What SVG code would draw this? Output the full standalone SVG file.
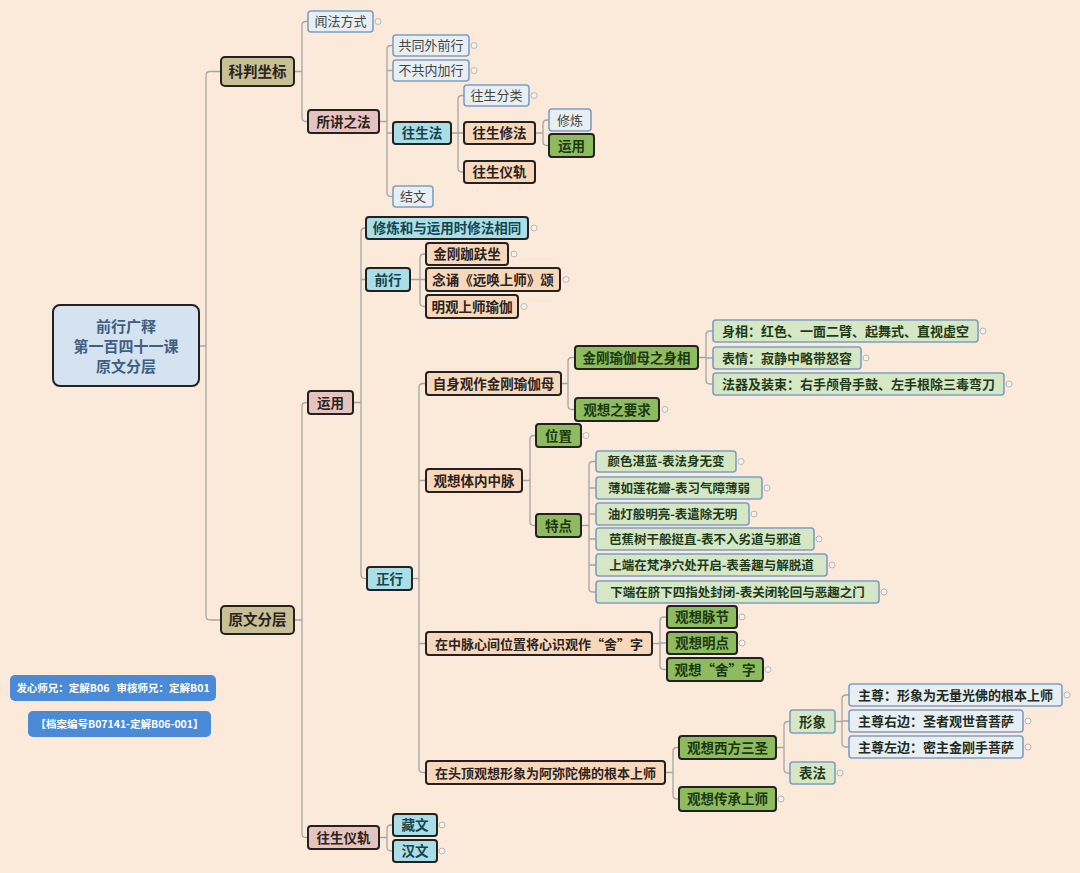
<svg xmlns="http://www.w3.org/2000/svg" width="1080" height="873" viewBox="0 0 1080 873">
<style>
text{font-family:"Noto Sans CJK SC","Noto Sans",sans-serif;font-weight:700;font-size:13.5px;text-anchor:middle;fill:#2a2320}
rect{stroke-width:2}
.k rect{fill:#c7bf96;stroke:#222}
.p rect{fill:#e7c3bf;stroke:#222}
.c rect{fill:#aadde6;stroke:#222}
.c text{fill:#15454d}
.o rect{fill:#f9d7ba;stroke:#222}
.g rect{fill:#8fbb5f;stroke:#222}
.g text{fill:#1b3812}
.l rect{fill:#e8eff3;stroke:#7d9fc3;stroke-width:1.6}
.l text{font-weight:400;font-size:13px;fill:#444}
.lb rect{fill:#e8eff3;stroke:#7d9fc3;stroke-width:1.6}
.lb text{fill:#1f2a22}
.lg rect{fill:#d6e7c6;stroke:#7d9fc3;stroke-width:1.6}
.lg text{fill:#1f3a1a}
.s text{font-size:12.5px}
.t text{font-size:13px}
.b rect{fill:#4a8ad6;stroke:none}
.b text{fill:#fff;font-size:10.5px}
#connectors path{fill:none;stroke:#a3a7aa;stroke-width:1.3}
#markers circle{fill:#f6f3ef;stroke:#a9a9a9;stroke-width:0.8}
</style>
<rect x="0" y="0" width="1080" height="873" fill="#fbe9da" style="stroke:none"/>
<g id="connectors">
<path d="M199 346H206M221 71.5H210Q206 71.5 206 75.5V616Q206 620 210 620H221"/>
<path d="M294 71.5H302M308 21.5H306Q302 21.5 302 25.5V117.5Q302 121.5 306 121.5H308"/>
<path d="M379 121.5H387M393 45.5H391Q387 45.5 387 49.5V192.5Q387 196.5 391 196.5H393M387 70.5H393M387 133H393"/>
<path d="M451 133H458M464 95.5H462Q458 95.5 458 99.5V168Q458 172 462 172H464M458 133H464"/>
<path d="M535 133H543M549 120H547Q543 120 543 124V141.5Q543 145.5 547 145.5H549"/>
<path d="M294 620H302M308 402.5H306Q302 402.5 302 406.5V833.5Q302 837.5 306 837.5H308"/>
<path d="M353 402.5H361M366 228H365Q361 228 361 232V574.5Q361 578.5 365 578.5H367M361 279.5H366"/>
<path d="M410 279.5H420M426 254H424Q420 254 420 258V302.5Q420 306.5 424 306.5H426M420 279.5H426"/>
<path d="M412 578.5H419M426 383.5H423Q419 383.5 419 387.5V768.5Q419 772.5 423 772.5H426M419 480.5H426M419 643.5H426"/>
<path d="M561 383.5H568M575 357.5H572Q568 357.5 568 361.5V405.5Q568 409.5 572 409.5H575"/>
<path d="M698 357.5H706M713 331H710Q706 331 706 335V380Q706 384 710 384H713M706 358H713"/>
<path d="M522 480.5H530M536 435.5H534Q530 435.5 530 439.5V521.5Q530 525.5 534 525.5H536"/>
<path d="M581 525.5H589M596 461.5H593Q589 461.5 589 465.5V588Q589 592 593 592H596M589 488H596M589 514H596M589 539H596M589 565H596"/>
<path d="M652 643.5H660M667 617H664Q660 617 660 621V665.5Q660 669.5 664 669.5H667M660 643H667"/>
<path d="M665 772.5H673M679 747.5H677Q673 747.5 673 751.5V795Q673 799 677 799H679"/>
<path d="M776 747.5H784M790 721.5H788Q784 721.5 784 725.5V769Q784 773 788 773H790"/>
<path d="M835 721.5H842M849 695H846Q842 695 842 699V743Q842 747 846 747H849M842 721H849"/>
<path d="M379 837.5H387M393 825H391Q387 825 387 829V847Q387 851 391 851H393"/>
</g>
<g id="root"><rect x="53" y="305" width="146" height="81" rx="7" style="fill:#d5e2ef;stroke:#222"/>
<text x="126" y="332" style="font-size:15px;fill:#3e5f83">前行广释</text>
<text x="126" y="352" style="font-size:15px;fill:#3e5f83">第一百四十一课</text>
<text x="126" y="372" style="font-size:15px;fill:#3e5f83">原文分层</text></g>
<g id="n-kepan" class="k"><rect x="221" y="57" width="73" height="29" rx="4"/><text x="257.5" y="76.5" style="font-size:14.5px">科判坐标</text></g>
<g id="n-wenfa" class="l"><rect x="308" y="11" width="65" height="21" rx="3"/><text x="340.5" y="26">闻法方式</text></g>
<g id="n-suojiang" class="p"><rect x="308" y="110" width="71" height="23" rx="3"/><text x="343.5" y="126.5">所讲之法</text></g>
<g id="n-gongtong" class="l"><rect x="393" y="35" width="76" height="21" rx="3"/><text x="431" y="50">共同外前行</text></g>
<g id="n-bugong" class="l"><rect x="393" y="60" width="76" height="21" rx="3"/><text x="431" y="75">不共内加行</text></g>
<g id="n-wangshengfa" class="c"><rect x="393" y="122" width="58" height="22" rx="3"/><text x="422" y="138">往生法</text></g>
<g id="n-jiewen" class="l"><rect x="393" y="186" width="40" height="21" rx="3"/><text x="413" y="201">结文</text></g>
<g id="n-fenlei" class="l"><rect x="464" y="85" width="65" height="21" rx="3"/><text x="496.5" y="100">往生分类</text></g>
<g id="n-xiufa" class="o"><rect x="464" y="122" width="71" height="22" rx="3"/><text x="499.5" y="138">往生修法</text></g>
<g id="n-yigui1" class="o"><rect x="464" y="161" width="71" height="22" rx="3"/><text x="499.5" y="177">往生仪轨</text></g>
<g id="n-xiulian" class="l"><rect x="549" y="109" width="42" height="22" rx="3"/><text x="570" y="125">修炼</text></g>
<g id="n-yunyong1" class="g"><rect x="549" y="134" width="45" height="23" rx="3"/><text x="571.5" y="150.5">运用</text></g>
<g id="n-yuanwen" class="k"><rect x="221" y="606" width="73" height="28" rx="4"/><text x="257.5" y="625" style="font-size:14.5px">原文分层</text></g>
<g id="n-yunyong" class="p"><rect x="308" y="391" width="45" height="23" rx="3"/><text x="330.5" y="407.5">运用</text></g>
<g id="n-yigui2" class="p"><rect x="308" y="826" width="71" height="23" rx="3"/><text x="343.5" y="842.5">往生仪轨</text></g>
<g id="n-zangwen" class="c"><rect x="393" y="814" width="44" height="22" rx="3"/><text x="415" y="830">藏文</text></g>
<g id="n-hanwen" class="c"><rect x="393" y="840" width="44" height="22" rx="3"/><text x="415" y="856">汉文</text></g>
<g id="n-xiangtong" class="c"><rect x="366" y="217" width="162" height="22" rx="3"/><text x="447" y="233">修炼和与运用时修法相同</text></g>
<g id="n-qianxing" class="c"><rect x="366" y="268" width="44" height="23" rx="3"/><text x="388" y="284.5">前行</text></g>
<g id="n-zhengxing" class="c"><rect x="367" y="567" width="45" height="23" rx="3"/><text x="389.5" y="583.5">正行</text></g>
<g id="n-jingang" class="o"><rect x="426" y="243" width="82" height="22" rx="3"/><text x="467" y="259">金刚跏趺坐</text></g>
<g id="n-niansong" class="o"><rect x="426" y="268" width="134" height="23" rx="3"/><text x="493" y="284.5">念诵《远唤上师》颂</text></g>
<g id="n-mingguan" class="o"><rect x="426" y="295" width="92" height="23" rx="3"/><text x="472" y="311.5">明观上师瑜伽</text></g>
<g id="n-zishen" class="o"><rect x="426" y="372" width="135" height="23" rx="3"/><text x="493.5" y="388.5">自身观作金刚瑜伽母</text></g>
<g id="n-zhongmai" class="o"><rect x="426" y="469" width="96" height="23" rx="3"/><text x="474" y="485.5">观想体内中脉</text></g>
<g id="n-xinjian" class="o t"><rect x="426" y="632" width="226" height="23" rx="3"/><text x="539" y="648.5">在中脉心间位置将心识观作“舍”字</text></g>
<g id="n-touding" class="o t"><rect x="426" y="761" width="239" height="23" rx="3"/><text x="545.5" y="777.5">在头顶观想形象为阿弥陀佛的根本上师</text></g>
<g id="n-shenxiang" class="g"><rect x="575" y="346" width="123" height="23" rx="3"/><text x="636.5" y="362.5">金刚瑜伽母之身相</text></g>
<g id="n-yaoqiu" class="g"><rect x="575" y="398" width="84" height="23" rx="3"/><text x="617" y="414.5">观想之要求</text></g>
<g id="n-sx1" class="lg t"><rect x="713" y="320" width="265" height="22" rx="3"/><text x="845.5" y="336">身相：红色、一面二臂、起舞式、直视虚空</text></g>
<g id="n-sx2" class="lg t"><rect x="713" y="347" width="148" height="22" rx="3"/><text x="787" y="363">表情：寂静中略带怒容</text></g>
<g id="n-sx3" class="lg t"><rect x="713" y="373" width="291" height="22" rx="3"/><text x="858.5" y="389">法器及装束：右手颅骨手鼓、左手根除三毒弯刀</text></g>
<g id="n-weizhi" class="g"><rect x="536" y="424" width="45" height="23" rx="3"/><text x="558.5" y="440.5">位置</text></g>
<g id="n-tedian" class="g"><rect x="536" y="514" width="45" height="23" rx="3"/><text x="558.5" y="530.5">特点</text></g>
<g id="n-td1" class="lg s"><rect x="596" y="451" width="140" height="21" rx="3"/><text x="666" y="466">颜色湛蓝-表法身无变</text></g>
<g id="n-td2" class="lg s"><rect x="596" y="477" width="166" height="22" rx="3"/><text x="679" y="492.5">薄如莲花瓣-表习气障薄弱</text></g>
<g id="n-td3" class="lg s"><rect x="596" y="503" width="153" height="22" rx="3"/><text x="672.5" y="518.5">油灯般明亮-表遣除无明</text></g>
<g id="n-td4" class="lg s"><rect x="596" y="528" width="218" height="22" rx="3"/><text x="705" y="543.5">芭蕉树干般挺直-表不入劣道与邪道</text></g>
<g id="n-td5" class="lg s"><rect x="596" y="554" width="231" height="22" rx="3"/><text x="711.5" y="569.5">上端在梵净穴处开启-表善趣与解脱道</text></g>
<g id="n-td6" class="lg s"><rect x="596" y="581" width="283" height="22" rx="3"/><text x="737.5" y="596.5">下端在脐下四指处封闭-表关闭轮回与恶趣之门</text></g>
<g id="n-maijie" class="g"><rect x="667" y="606" width="70" height="22" rx="3"/><text x="702" y="622">观想脉节</text></g>
<g id="n-mingdian" class="g"><rect x="667" y="632" width="70" height="22" rx="3"/><text x="702" y="648">观想明点</text></g>
<g id="n-she" class="g"><rect x="667" y="658" width="96" height="23" rx="3"/><text x="715" y="674.5">观想“舍”字</text></g>
<g id="n-sansheng" class="g"><rect x="679" y="736" width="97" height="23" rx="3"/><text x="727.5" y="752.5">观想西方三圣</text></g>
<g id="n-chuancheng" class="g"><rect x="679" y="787" width="97" height="24" rx="3"/><text x="727.5" y="804">观想传承上师</text></g>
<g id="n-xingxiang" class="lg"><rect x="790" y="710" width="45" height="23" rx="3"/><text x="812.5" y="726.5">形象</text></g>
<g id="n-biaofa" class="lg"><rect x="790" y="762" width="45" height="22" rx="3"/><text x="812.5" y="778">表法</text></g>
<g id="n-zhuzun" class="lb t"><rect x="849" y="684" width="213" height="22" rx="3"/><text x="955.5" y="700">主尊：形象为无量光佛的根本上师</text></g>
<g id="n-youbian" class="lb t"><rect x="849" y="710" width="174" height="22" rx="3"/><text x="936" y="726">主尊右边：圣者观世音菩萨</text></g>
<g id="n-zuobian" class="lb t"><rect x="849" y="736" width="174" height="22" rx="3"/><text x="936" y="752">主尊左边：密主金刚手菩萨</text></g>
<g id="badge1" class="b"><rect x="10" y="675" width="206" height="26" rx="5"/><text x="113" y="692" xml:space="preserve">发心师兄：定解B06   审核师兄：定解B01</text></g>
<g id="badge2" class="b"><rect x="28" y="711" width="183" height="26" rx="5"/><text x="119.5" y="728">【档案编号B07141-定解B06-001】</text></g>
<g id="markers">
<circle cx="378" cy="21.5" r="3"/><circle cx="474" cy="45.5" r="3"/><circle cx="474" cy="70.5" r="3"/><circle cx="534" cy="95.5" r="3"/>
<circle cx="534" cy="228" r="3"/><circle cx="514" cy="254" r="3"/><circle cx="566" cy="279.5" r="3"/><circle cx="524" cy="306.5" r="3"/>
<circle cx="983" cy="331" r="3"/><circle cx="866" cy="358" r="3"/><circle cx="1009" cy="384" r="3"/><circle cx="665" cy="409.5" r="3"/>
<circle cx="586" cy="435.5" r="3"/><circle cx="741" cy="461.5" r="3"/><circle cx="767" cy="488" r="3"/><circle cx="754" cy="514" r="3"/>
<circle cx="819" cy="539" r="3"/><circle cx="832" cy="565" r="3"/><circle cx="884" cy="592" r="3"/><circle cx="742" cy="617" r="3"/>
<circle cx="742" cy="643" r="3"/><circle cx="768" cy="669.5" r="3"/><circle cx="1067" cy="695" r="3"/><circle cx="1028" cy="721" r="3"/>
<circle cx="1028" cy="747" r="3"/><circle cx="840" cy="773" r="3"/><circle cx="781" cy="799" r="3"/><circle cx="442" cy="825" r="3"/><circle cx="442" cy="851" r="3"/>
</g>
</svg>
